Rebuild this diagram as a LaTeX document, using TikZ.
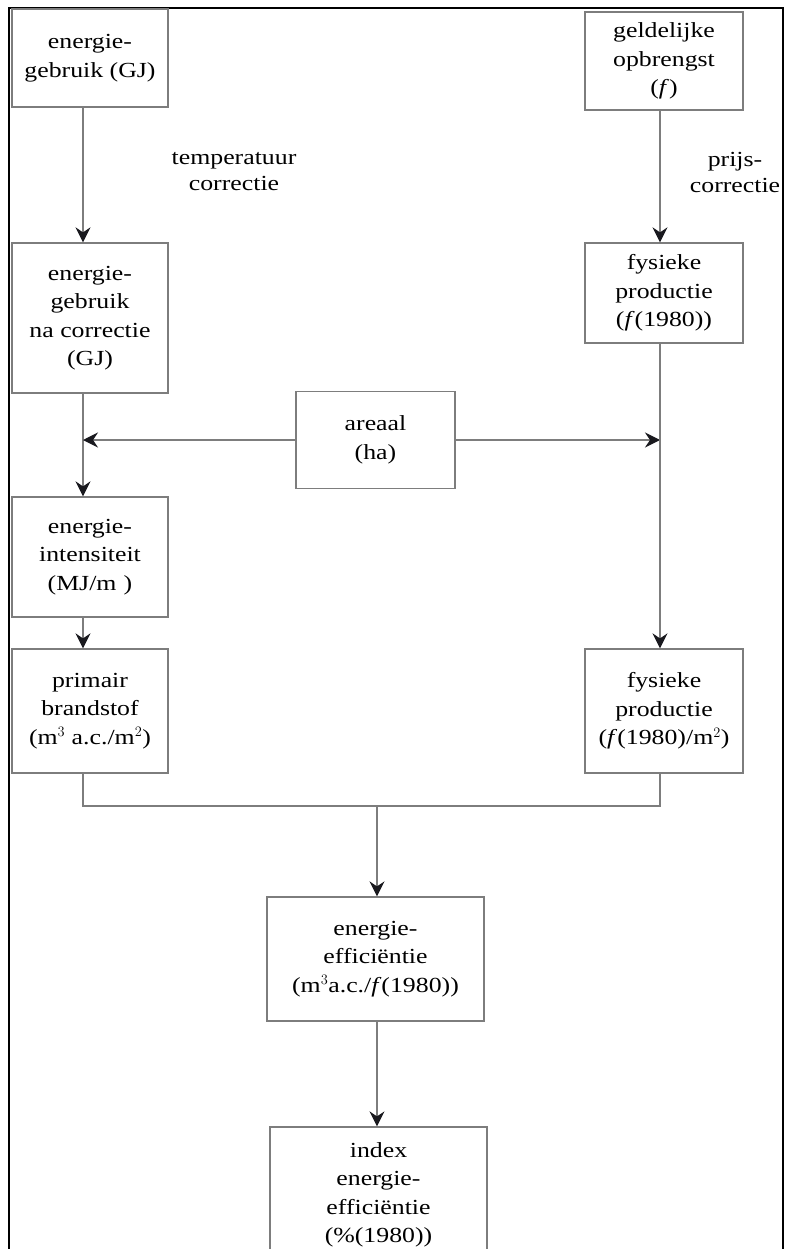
\documentclass[tikz,border=0pt]{standalone}
\usepackage{fontspec}
\setmainfont{Liberation Serif}[FakeStretch=1.2]
\usetikzlibrary{arrows.meta}
\definecolor{ln}{RGB}{125,125,125}
\definecolor{tipc}{RGB}{25,25,30}
\begin{document}
\begin{tikzpicture}[x=1pt,y=-1pt,
  box/.style={draw=ln, line width=1.3pt, align=center, inner sep=0pt,
    font=\fontsize{21.5}{28.5}\selectfont},
  lbl/.style={align=center, inner sep=0pt, font=\fontsize{21.5}{26}\selectfont},
  conn/.style={draw=ln, line width=1.3pt},
  arr/.style={conn, -{Stealth[length=15pt,width=15pt,inset=5pt,color=tipc]}}]
\useasboundingbox (0,0) rectangle (788,1249);
\clip (0,0) rectangle (788,1249);
% outer frame
\draw[line width=2.4pt] (9,1260) -- (9,8) -- (783,8) -- (783,1260);
% columns
\coordinate (cl) at (83,0);
\coordinate (cr) at (660,0);
\coordinate (jn) at (377,806);
% boxes
\node[box, minimum width=156pt, minimum height=98pt] (b1) at (90,58) {energie-\\gebruik (GJ)};
\node[box, minimum width=158pt, minimum height=98pt] (b2) at (664,61) {geldelijke\\opbrengst\\(\textit{f})};
\node[box, minimum width=156pt, minimum height=150pt] (b3) at (90,318) {energie-\\gebruik\\na correctie\\(GJ)};
\node[box, minimum width=158pt, minimum height=100pt] (b4) at (664,293) {fysieke\\productie\\(\textit{f}(1980))};
\node[box, minimum width=159pt, minimum height=97pt] (b5) at (375.5,440) {areaal\\(ha)};
\node[box, minimum width=156pt, minimum height=120pt] (b6) at (90,557) {energie-\\intensiteit\\(MJ/m\,\,)};
\node[box, minimum width=156pt, minimum height=124pt] (b7) at (90,711) {primair\\brandstof\\(m$^3$ a.c./m$^2$)};
\node[box, minimum width=158pt, minimum height=124pt] (b8) at (664,711) {fysieke\\productie\\(\textit{f}(1980)/m$^2$)};
\node[box, minimum width=217pt, minimum height=124pt] (b9) at (375.5,959) {energie-\\efficiëntie\\(m$^3$a.c./\textit{f}(1980))};
\node[box, minimum width=217pt, minimum height=136pt] (b10) at (378.5,1195) {index\\energie-\\efficiëntie\\(\%(1980))};
% labels
\node[lbl] (t1) at (234,172) {temperatuur\\correctie};
\node[lbl] (t2) at (735,172) {prijs-\\correctie};
% connectors
\draw[arr] (b1.south -| cl) -- (b3.north -| cl);
\draw[arr] (b2.south -| cr) -- (b4.north -| cr);
\draw[arr] (b3.south -| cl) -- (b6.north -| cl);
\draw[arr] (b5.west) -- (b5.west -| cl);
\draw[arr] (b5.east) -- (b5.east -| cr);
\draw[arr] (b4.south -| cr) -- (b8.north -| cr);
\draw[arr] (b6.south -| cl) -- (b7.north -| cl);
\draw[conn] (b7.south -| cl) |- (jn) -| (b8.south -| cr);
\draw[arr] (jn) -- (b9.north -| jn);
\draw[arr] (b9.south -| jn) -- (b10.north -| jn);
\end{tikzpicture}
\end{document}
